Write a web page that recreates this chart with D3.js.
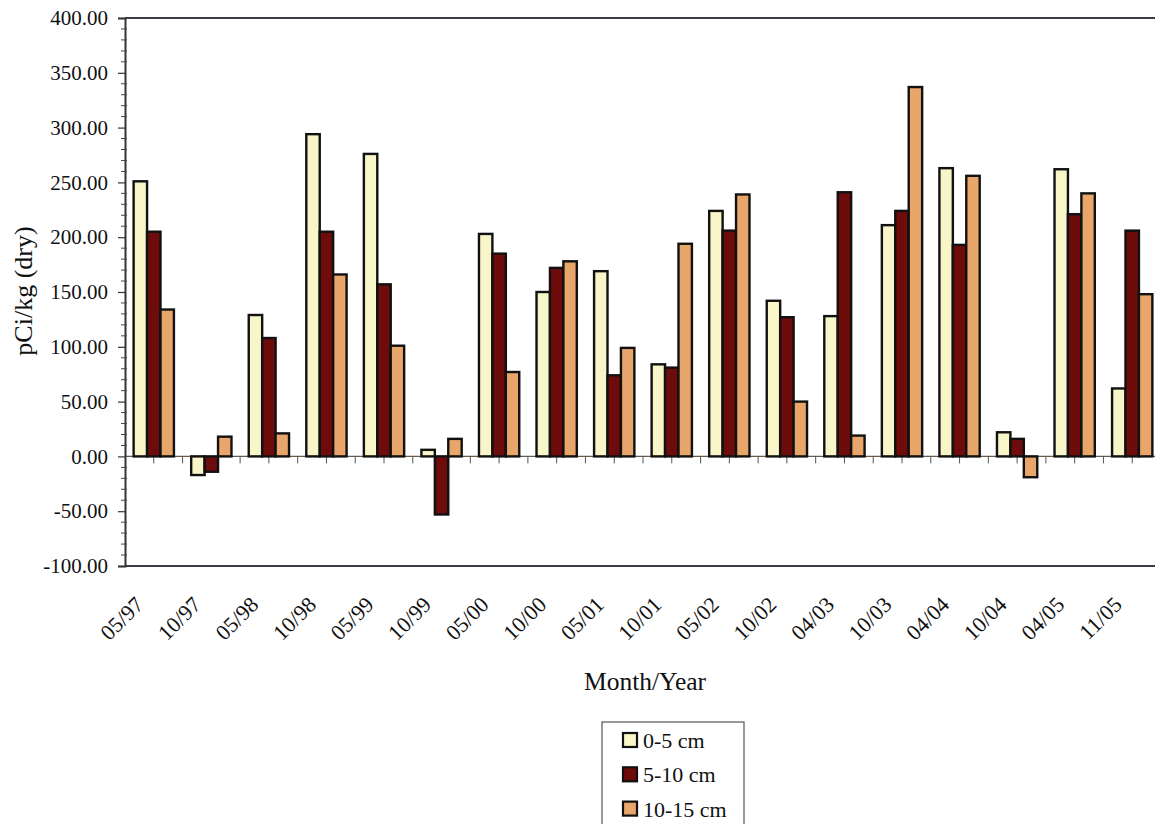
<!DOCTYPE html>
<html>
<head>
<meta charset="utf-8">
<script src="https://cdn.jsdelivr.net/npm/d3@7"></script>
<style>
  html, body { margin: 0; padding: 0; background: #ffffff; }
  svg { display: block; }
  text { font-family: "Liberation Serif", "Times New Roman", serif; fill: #111; }
</style>
</head>
<body>
<script>
const categories = ["05/97","10/97","05/98","10/98","05/99","10/99","05/00","10/00","05/01","10/01","05/02","10/02","04/03","10/03","04/04","10/04","04/05","11/05"];
const seriesNames = ["0-5 cm","5-10 cm","10-15 cm"];
const depth0to5   = [251, -17, 129, 294, 276,   6, 203, 150, 169,  84, 224, 142, 128, 211, 263,  22, 262,  62];
const depth5to10  = [205, -14, 108, 205, 157, -53, 185, 172,  74,  81, 206, 127, 241, 224, 193,  16, 221, 206];
const depth10to15 = [134,  18,  21, 166, 101,  16,  77, 178,  99, 194, 239,  50,  19, 337, 256, -19, 240, 148];
const yTicks = [-100, -50, 0, 50, 100, 150, 200, 250, 300, 350, 400];
const seriesColors = ["#F8F5C9", "#6E0B0B", "#E9A66B"];

(function () {
const W = 1155, H = 824;
const svg = d3.select("body").append("svg").attr("width", W).attr("height", H);

const pLeft = 125, pRight = 1161, pTop = 18, pBottom = 566;
const x = d3.scaleBand().domain(categories).range([pLeft, pRight]).padding(0);
const bw = x.bandwidth();
const xs = d3.scaleBand().domain(seriesNames).range([bw * 0.15, bw * 0.85]).padding(0);
const y = d3.scaleLinear().domain([-100, 400]).range([pBottom, pTop]);

const data = categories.map((c, i) => ({
  cat: c,
  vals: [depth0to5[i], depth5to10[i], depth10to15[i]].map((v, k) => ({ s: seriesNames[k], v, k }))
}));

// zero line
svg.append("line").attr("x1", pLeft).attr("x2", W + 10).attr("y1", y(0)).attr("y2", y(0))
  .attr("stroke", "#6a5a4a").attr("stroke-width", 1.2);

// category ticks (boundaries and centres) below zero line
const tickPos = [];
categories.forEach(c => { tickPos.push(x(c)); tickPos.push(x(c) + bw / 2); });
tickPos.push(pRight);
svg.append("g").selectAll("line").data(tickPos.filter(p => p > pLeft + 1)).join("line")
  .attr("x1", d => d).attr("x2", d => d)
  .attr("y1", y(0)).attr("y2", y(0) + 7)
  .attr("stroke", "#555").attr("stroke-width", 1);

// bars
const g = svg.append("g");
g.selectAll("g").data(data).join("g")
  .attr("transform", d => `translate(${x(d.cat)},0)`)
  .selectAll("rect").data(d => d.vals).join("rect")
  .attr("x", d => xs(d.s))
  .attr("width", xs.bandwidth())
  .attr("y", d => y(Math.max(0, d.v)))
  .attr("height", d => Math.abs(y(d.v) - y(0)))
  .attr("fill", d => seriesColors[d.k])
  .attr("stroke", "#111").attr("stroke-width", 2.4);

// frame: top and bottom
svg.append("line").attr("x1", pLeft).attr("x2", W + 10).attr("y1", pTop).attr("y2", pTop)
  .attr("stroke", "#3a3d46").attr("stroke-width", 2);
svg.append("line").attr("x1", pLeft).attr("x2", W + 10).attr("y1", pBottom).attr("y2", pBottom)
  .attr("stroke", "#3a3d46").attr("stroke-width", 2);

// y axis
const fmt = d3.format(".2f");
const yAxis = d3.axisLeft(y).tickValues(yTicks)
  .tickFormat(d => fmt(d).replace("\u2212", "-")).tickSize(7).tickPadding(10);
const ya = svg.append("g").attr("transform", `translate(${pLeft},0)`).call(yAxis);
ya.select(".domain").attr("stroke", "#333").attr("stroke-width", 2);
ya.selectAll(".tick line").attr("stroke", "#333").attr("stroke-width", 1.2);
ya.selectAll("text").attr("font-size", "21px").attr("fill", "#111")
  .style("font-family", "'Liberation Serif', serif");
// minor ticks
const minor = d3.range(-100, 401, 10).filter(v => v % 50 !== 0);
svg.append("g").selectAll("line").data(minor).join("line")
  .attr("x1", pLeft - 4).attr("x2", pLeft + 2)
  .attr("y1", d => y(d)).attr("y2", d => y(d))
  .attr("stroke", "#444").attr("stroke-width", 1);

// x labels
svg.append("g").selectAll("text").data(categories).join("text")
  .attr("transform", d => `translate(${x(d) + bw / 2 - 9},${pBottom + 40}) rotate(-45)`)
  .attr("text-anchor", "end")
  .attr("font-size", "22px")
  .text(d => d);

// axis titles
svg.append("text").attr("x", 645).attr("y", 690).attr("text-anchor", "middle")
  .attr("font-size", "25.5px").text("Month/Year");
svg.append("text").attr("transform", "translate(32,291) rotate(-90)").attr("text-anchor", "middle")
  .attr("font-size", "26px").text("pCi/kg (dry)");

// legend
const lg = svg.append("g");
lg.append("rect").attr("x", 602).attr("y", 722).attr("width", 142).attr("height", 120)
  .attr("fill", "#fff").attr("stroke", "#555").attr("stroke-width", 1.2);
const item = lg.selectAll("g.item").data(seriesNames).join("g").attr("class", "item")
  .attr("transform", (d, i) => `translate(623,${733 + i * 34.3})`);
item.append("rect").attr("width", 14).attr("height", 14)
  .attr("fill", (d, i) => seriesColors[i]).attr("stroke", "#111").attr("stroke-width", 2.2);
item.append("text").attr("x", 20).attr("y", 15).attr("font-size", "22px").text(d => d);
})();
</script>
</body>
</html>
